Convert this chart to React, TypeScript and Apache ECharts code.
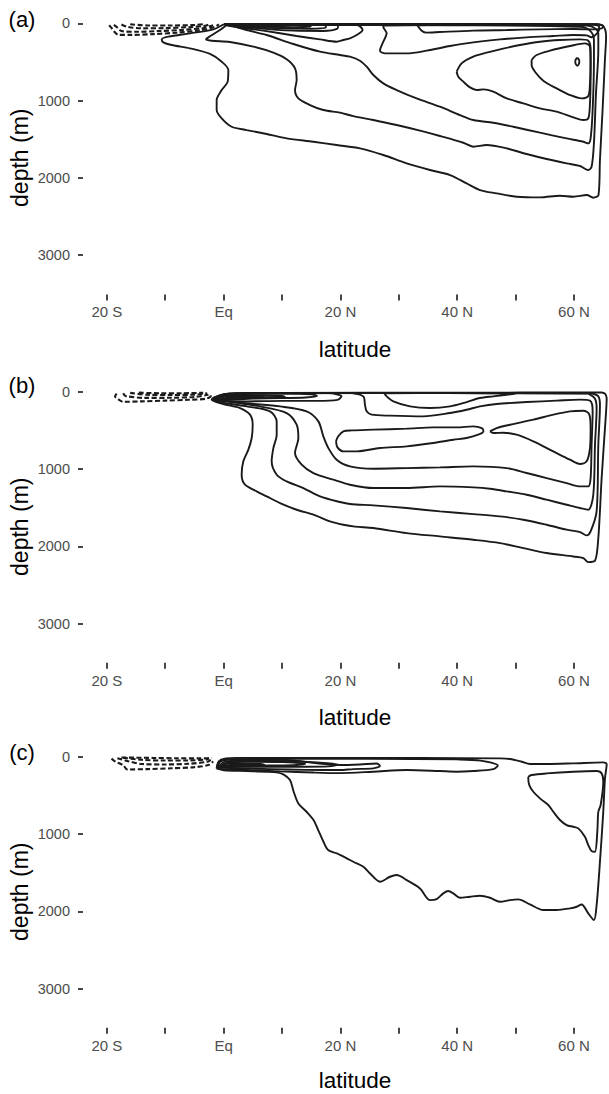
import React, { useEffect, useRef } from "react";
import * as echarts from "echarts";

type Pt = [number, number];

// Axis ticks
const latTicks = [-20, -10, 0, 10, 20, 30, 40, 50, 60];
const latLabels = [-20, 0, 20, 40, 60];
const depthTicks = [0, 1000, 2000, 3000];
const panelTags = ["(a)", "(b)", "(c)"];

// ---------- panel (a) ----------
const aC1: Pt[] = [[-0.05,15],[-1.76,78],[-5.75,130],[-9.46,173],[-10.6,208],[-10.32,246],[-8.89,281],[-5.75,324],[-2.33,397],[-0.33,497],[0.81,604],[0.7,755],[-0.33,863],[-1.19,993],[-1.19,1122],[-0.33,1230],[1.38,1338],[3.95,1381],[7.37,1432],[10.8,1488],[15.36,1532],[19.36,1575],[23.35,1618],[27.35,1704],[31.35,1812],[35.34,1898],[38.77,1963],[41.62,2071],[43.9,2157],[46.76,2200],[50.18,2243],[54.2,2252],[57.6,2230],[59.9,2243],[62.2,2222],[63.3,2256],[64.2,2222],[64.45,1769],[64.9,1122],[65.3,475],[65.5,173],[65.1,44],[63.9,12],[40,8],[20,8],[-0.05,15]];
const aC2: Pt[] = [[0.52,22],[-0.62,87],[-2.61,182],[-3.01,208],[-2.04,225],[1.1,242],[5.09,302],[8.52,380],[10.8,466],[12.23,583],[12.51,734],[12.23,863],[12.8,971],[14.8,1057],[17.08,1122],[19.93,1156],[22.21,1200],[25.64,1251],[29.63,1316],[33.63,1389],[37.05,1458],[41.05,1545],[42.76,1596],[45.05,1575],[48.47,1618],[51.89,1691],[55.32,1756],[58.74,1812],[61.03,1846],[62.45,1898],[63.02,1855],[63.42,1553],[63.77,906],[64.17,346],[64.17,130],[63.31,52],[62.17,28],[40,18],[10,18],[0.52,22]];
const aC3: Pt[] = [[1.38,30],[3.95,87],[7.37,151],[11.94,268],[16.51,367],[19.93,410],[21.64,432],[23.35,484],[24.5,561],[25.64,669],[27.35,777],[29.63,863],[33.06,971],[37.05,1079],[40.48,1187],[42.76,1251],[46.19,1286],[49.61,1338],[54.18,1415],[58.74,1489],[61.6,1532],[62.45,1553],[62.85,1489],[63.2,1122],[63.42,475],[63.42,216],[62.74,95],[61.03,45],[40,25],[10,22],[1.38,30]];
const aDip1: Pt[] = [[27.35,30],[27.35,44],[27.92,130],[27.35,238],[26.78,354],[27.64,389],[31.35,389],[34.77,354],[38.77,294],[42.76,246],[47.33,208],[51.89,182],[56.46,164],[59.89,151],[62.17,156],[63.02,180],[63.7,150],[64.3,80],[64.3,40],[63.5,18],[45,14],[27.35,30]];
const aDip2: Pt[] = [[33.17,25],[33.91,95],[34.77,121],[37.05,113],[42.76,95],[48.47,87],[54.18,78],[59.89,74],[63.31,78],[64.74,65],[65.03,35],[64,12],[45,10],[33.17,25]];
const aLoop: Pt[] = [[39.91,626],[40.76,518],[42.76,432],[45.05,380],[47.33,337],[50.75,281],[54.18,238],[57.6,216],[61.03,208],[62.45,225],[62.85,346],[62.85,691],[62.74,1036],[62.45,1230],[61.6,1251],[59.89,1217],[57.03,1143],[54.18,1100],[51.32,1036],[48.47,971],[46.19,885],[44.47,855],[43.33,863],[42.19,829],[41.05,755],[40.19,691],[39.91,626]];
const aInner: Pt[] = [[52.75,475],[53.61,410],[55.89,354],[59.32,294],[61.88,259],[62.74,302],[62.85,518],[62.74,777],[62.45,941],[61.31,971],[59.32,928],[57.03,842],[54.75,742],[53.32,626],[52.75,540],[52.75,475]];
const aCore: Pt[] = [[60.57,445],[60.85,470],[60.91,497],[60.85,524],[60.57,549],[60.29,524],[60.23,497],[60.29,470],[60.57,445]];
const aE4: Pt[] = [[0.07,9],[10,10],[20,12],[23,25],[23.8,87],[22.78,151],[21.64,194],[20.5,216],[19.36,238],[16.51,208],[12.51,164],[6.8,95],[1.1,35],[0.07,9]];
const aE3: Pt[] = [[0.1,8],[10,8],[17,10],[19.6,30],[19.5,70],[17,100],[12,95],[6,65],[2,30],[0.1,8]];
const aE2: Pt[] = [[0.3,8],[14,8],[17.5,25],[17.5,55],[15,70],[10,65],[5,45],[1.5,20],[0.3,8]];
const aE1: Pt[] = [[0.5,8],[12,8],[15,20],[14.8,42],[12,50],[8,45],[3,28],[0.5,8]];
const aD1: Pt[] = [[-19.6,25],[-19.2,60],[-18.7,110],[-18,150],[-16,150],[-12,140],[-8,120],[-4,90],[-1.5,45],[-0.8,15]];
const aD2: Pt[] = [[-18.8,20],[-18.2,55],[-17.5,100],[-15,110],[-11,100],[-7,85],[-3.5,60],[-1.8,25]];
const aD3: Pt[] = [[-17.5,15],[-16.5,45],[-14,65],[-10,62],[-6,50],[-3,30],[-2.5,15]];
const aD4: Pt[] = [[-16,12],[-13,28],[-9,28],[-5,22],[-3.5,12]];

// ---------- panel (b) ----------
const bC1: Pt[] = [[64.8,10],[40,12],[10,15],[2,20],[0,35],[-1.5,70],[-2.04,103],[-0.05,159],[2.81,211],[4.52,297],[4.98,427],[4.81,599],[4.24,750],[3.38,901],[3.09,1074],[3.66,1203],[5.66,1289],[7.37,1354],[9.66,1441],[12.51,1527],[15.37,1591],[18.22,1678],[20.5,1721],[22.5,1745],[25.64,1764],[31.35,1829],[37.05,1872],[42.76,1915],[47.33,1958],[51.32,2023],[55.32,2087],[59.89,2131],[61.6,2152],[62.45,2204],[63.6,2187],[64.17,1893],[64.74,1117],[65.31,470],[65.6,82],[65.31,26],[64.8,10]];
const bC2: Pt[] = [[63,20],[40,15],[10,18],[2,25],[-1,60],[-1.8,100],[0.5,150],[3.95,190],[7.94,254],[9.09,384],[9.09,556],[8.52,729],[8.23,901],[9.09,1074],[10.8,1160],[13.65,1246],[16.51,1354],[19.93,1427],[21.64,1453],[25.64,1471],[31.35,1505],[37.05,1548],[42.76,1583],[47.33,1613],[51.32,1656],[55.32,1721],[58.74,1785],[61.03,1816],[62.17,1859],[62.85,1807],[63.88,1548],[64.17,686],[64.45,168],[64.17,60],[63,20]];
const bC3: Pt[] = [[62.5,25],[40,18],[10,20],[2,28],[-1,60],[-1.6,98],[1,130],[6.23,190],[10.8,276],[12.51,427],[12.8,599],[12.23,793],[13.37,944],[15.37,1052],[18.79,1138],[21.64,1203],[25.64,1246],[31.35,1246],[37.05,1225],[42.76,1238],[45.62,1255],[48.47,1289],[51.89,1333],[55.32,1397],[58.74,1462],[61.03,1505],[62.45,1527],[63.31,1333],[63.6,686],[63.88,211],[63.6,90],[62.5,25]];
const bC4: Pt[] = [[22,18],[23.93,60],[24.21,168],[24.5,254],[25.35,297],[28.49,310],[34.2,319],[38.77,276],[41.62,233],[43.9,190],[46.76,159],[51.9,134],[57.03,116],[61.03,103],[62.74,116],[63.2,254],[63.02,686],[62.85,1117],[62.45,1225],[61.03,1225],[58.74,1182],[55.32,1117],[51.89,1052],[48.47,988],[42.76,966],[37.05,979],[31.35,988],[25.64,996],[21.64,966],[19.36,880],[17.94,729],[17.08,578],[16.23,384],[14.22,254],[9.66,190],[4,150],[0,112],[-1.4,95],[0,50],[3,25],[10,20],[22,18]];
const bDip: Pt[] = [[27.5,20],[27.92,60],[29.06,125],[31.92,190],[35.34,211],[38.77,190],[41.62,134],[43.9,82],[46.19,60],[48.47,39],[50,25],[38,18],[27.5,20]];
const bLobeW: Pt[] = [[19.25,642],[19.6,580],[20.5,513],[21.93,500],[25.64,491],[31.35,478],[35.9,461],[39.9,461],[42.76,448],[44.2,470],[44.5,510],[43.6,556],[41.62,599],[39.34,621],[35.9,664],[31.35,707],[26.78,729],[22.78,772],[20.5,772],[19.5,720],[19.25,642]];
const bLobeE: Pt[] = [[45.62,513],[46.76,470],[49.04,427],[53.04,362],[56.46,297],[59.32,254],[61.6,246],[62.6,290],[62.85,470],[62.74,729],[62.17,901],[61.03,936],[59.32,880],[56.46,772],[53.04,642],[50.18,556],[47.9,530],[46.19,535],[45.62,513]];
const bE1: Pt[] = [[-1.2,100],[-0.8,50],[1,22],[10,15],[18,18],[20.2,60],[19.5,105],[16,118],[10,118],[4,125],[0,120],[-1.2,100]];
const bE2: Pt[] = [[-0.9,97],[-0.5,50],[1.5,30],[10,25],[15,32],[16,55],[14,75],[10,82],[5,90],[1,100],[-0.9,97]];
const bE3: Pt[] = [[-0.6,90],[-0.3,70],[1,55],[6,50],[10,55],[10.5,68],[8,75],[3,82],[-0.6,90]];
const bE4: Pt[] = [[0.35,88],[0.6,72],[2,65],[5,64],[7,70],[5,78],[2,84],[0.35,88]];
const bE5: Pt[] = [[1.2,86],[1.5,75],[2.6,70],[4,72],[4.2,80],[2.8,86],[1.2,86]];
const bD1: Pt[] = [[-18.3,25],[-18.6,60],[-18,100],[-17.2,130],[-14,125],[-10,115],[-6,105],[-3,90],[-2.2,55],[-2.3,20]];
const bD2: Pt[] = [[-17.2,20],[-16.8,55],[-13.5,80],[-9,78],[-5,68],[-2.6,40]];
const bD3: Pt[] = [[-16,15],[-13,40],[-9,42],[-5,38],[-2.8,22]];
const bD4: Pt[] = [[-14.5,12],[-11,20],[-7,20],[-3.5,14]];

// ---------- panel (c) ----------
const cOuter: Pt[] = [[-1.19,151],[0,175],[3.95,185],[7.37,194],[9.09,203],[10.23,229],[11.37,302],[12,453],[12.8,604],[14.2,712],[15.4,820],[16.2,949],[17.1,1100],[17.9,1208],[19.4,1251],[21.1,1315],[22.21,1359],[23.93,1423],[25.07,1510],[26.78,1617],[28.49,1553],[29.63,1531],[31.35,1596],[33.63,1704],[35.34,1855],[36.48,1842],[37.62,1768],[38.48,1738],[39.34,1768],[40.48,1825],[42.19,1811],[43.9,1799],[45.62,1825],[47.33,1876],[49.04,1855],[50.47,1846],[52.46,1911],[54.75,1984],[57.03,1984],[59.32,1962],[60.46,1941],[61.31,1911],[62.45,2027],[63.42,2113],[63.88,1919],[64.45,1359],[65.02,712],[65.31,280],[65.6,99],[65.02,73],[59.89,86],[55.32,95],[52.46,95],[51.04,65],[49.04,30],[47.33,22],[20,15],[2,15],[-0.5,40],[-1.19,151]];
const cTri: Pt[] = [[52.18,259],[52.75,237],[55.32,216],[59.89,194],[63.88,185],[64.74,216],[65.02,323],[64.57,625],[64.17,712],[64,970],[63.6,1229],[63.02,1221],[62.45,1143],[61.88,1035],[60.74,927],[59.89,906],[58.74,884],[57.6,819],[56.46,712],[55.6,625],[54.18,539],[53.04,453],[52.35,367],[52.18,280],[52.18,259]];
const cE1: Pt[] = [[-1.19,151],[-0.8,60],[1,35],[10,28],[25,28],[40,35],[44,50],[46.96,116],[46.19,160],[42.76,185],[39.9,194],[37,185],[31.35,172],[25.6,194],[19.9,212],[15.37,205],[9.66,190],[3.95,172],[0,162],[-1.19,151]];
const cE2: Pt[] = [[-1,140],[-0.5,60],[2,35],[10,40],[19.93,108],[23.35,100],[26.2,87],[26.78,120],[25.64,151],[22.21,160],[19.93,172],[14,170],[8,160],[3,150],[-1,140]];
const cE3: Pt[] = [[-0.8,130],[0,70],[3,50],[10,55],[16,75],[19.6,100],[18,125],[14,130],[8,128],[3,130],[-0.8,130]];
const cE4: Pt[] = [[-0.5,120],[0.5,80],[4,65],[10,70],[14,90],[12,110],[6,115],[1,118],[-0.5,120]];
const cE5: Pt[] = [[-0.1,118],[0.3,95],[2,88],[6,90],[7,105],[5,114],[1.5,120],[-0.1,118]];
const cE6: Pt[] = [[0.9,115],[1.2,100],[2.5,96],[4.5,100],[4.8,110],[3.5,116],[1.8,118],[0.9,115]];
const cD1: Pt[] = [[-19.2,25],[-18.6,60],[-17.2,110],[-16.5,165],[-13,160],[-9,150],[-5,135],[-2.5,105],[-1.8,60]];
const cD2: Pt[] = [[-18.2,20],[-16.5,55],[-14,95],[-10,100],[-6,92],[-2.8,65],[-2.2,40]];
const cD3: Pt[] = [[-17.2,14],[-14,40],[-10,50],[-6,48],[-3,35],[-2.5,20]];
const cD4: Pt[] = [[-17.5,10],[-12,16],[-8,20],[-4,22],[-2,18]];

const solidLines: Pt[][][] = [
  [aC1, aC2, aC3, aDip1, aDip2, aLoop, aInner, aCore, aE4, aE3, aE2, aE1],
  [bC1, bC2, bC3, bC4, bDip, bLobeW, bLobeE, bE1, bE2, bE3, bE4, bE5],
  [cOuter, cTri, cE1, cE2, cE3, cE4, cE5, cE6],
];
const dashedLines: Pt[][][] = [
  [aD1, aD2, aD3, aD4],
  [bD1, bD2, bD3, bD4],
  [cD1, cD2, cD3, cD4],
];

const FONT = "'Liberation Sans', Arial, Helvetica, sans-serif";
const gridTops = [10.4, 378.8, 743.8];
const GRID_H = 284;

function latText(v: number): string {
  if (v === 0) return "Eq";
  return v < 0 ? `${-v} S` : `${v} N`;
}

export default function App() {
  const ref = useRef<HTMLDivElement>(null);

  useEffect(() => {
    if (!ref.current) return;
    const chart = echarts.init(ref.current, undefined, { renderer: "svg" });

    const grids = gridTops.map((top) => ({ left: 83, top, width: 526, height: GRID_H }));

    const xAxes = gridTops.map((_, i) => ({
      type: "value",
      gridIndex: i,
      position: "bottom",
      min: -24.08,
      max: 66,
      axisLine: { show: false, onZero: false },
      splitLine: { show: false },
      axisTick: {
        show: true,
        length: 6,
        customValues: latTicks,
        lineStyle: { color: "#333333", width: 1.8 },
      },
      axisLabel: {
        customValues: latLabels,
        formatter: (v: number) => latText(v),
        fontSize: 15,
        color: "#4d4d4d",
        fontFamily: FONT,
        margin: 10,
      },
    }));

    const yAxes = gridTops.map((_, i) => ({
      type: "value",
      gridIndex: i,
      position: "left",
      inverse: true,
      min: -167,
      max: 3507,
      axisLine: { show: false, onZero: false },
      splitLine: { show: false },
      axisTick: {
        show: true,
        length: 5,
        customValues: depthTicks,
        lineStyle: { color: "#333333", width: 1.8 },
      },
      axisLabel: {
        customValues: depthTicks,
        formatter: (v: number) => String(v),
        fontSize: 14.5,
        color: "#4d4d4d",
        fontFamily: FONT,
        margin: 13,
      },
    }));

    const series: any[] = [];
    solidLines.forEach((lines, i) => {
      lines.forEach((d) => {
        series.push({
          type: "line",
          xAxisIndex: i,
          yAxisIndex: i,
          data: d,
          symbol: "none",
          smooth: 0.3,
          silent: true,
          lineStyle: { color: "#1a1a1a", width: 1.9 },
        });
      });
    });
    dashedLines.forEach((lines, i) => {
      lines.forEach((d) => {
        series.push({
          type: "line",
          xAxisIndex: i,
          yAxisIndex: i,
          data: d,
          symbol: "none",
          smooth: 0.3,
          silent: true,
          lineStyle: { color: "#1a1a1a", width: 2.1, type: [5, 2.5] },
        });
      });
    });

    const latY = [349, 717.5, 1080.5];
    const depthY = [157.7, 526.7, 891.7];
    const tagY = [19, 385, 752];
    const graphic: any[] = [];
    gridTops.forEach((_, i) => {
      graphic.push({
        type: "text",
        x: 355,
        y: latY[i],
        style: {
          text: "latitude",
          fontSize: 22.5,
          fontFamily: FONT,
          fill: "#000",
          textAlign: "center",
          textVerticalAlign: "middle",
        },
      });
      graphic.push({
        type: "text",
        x: 20,
        y: depthY[i],
        rotation: Math.PI / 2,
        style: {
          text: "depth (m)",
          fontSize: 23,
          fontFamily: FONT,
          fill: "#000",
          textAlign: "center",
          textVerticalAlign: "middle",
        },
      });
      graphic.push({
        type: "text",
        x: 22,
        y: tagY[i],
        style: {
          text: panelTags[i],
          fontSize: 22,
          fontFamily: FONT,
          fill: "#000",
          textAlign: "center",
          textVerticalAlign: "middle",
        },
      });
    });

    chart.setOption({
      animation: false,
      backgroundColor: "#ffffff",
      grid: grids,
      xAxis: xAxes,
      yAxis: yAxes,
      series,
      graphic,
    });

    return () => chart.dispose();
  }, []);

  return (
    <div
      ref={ref}
      style={{ position: "absolute", left: 0, top: 0, width: 609, height: 1094 }}
    />
  );
}
